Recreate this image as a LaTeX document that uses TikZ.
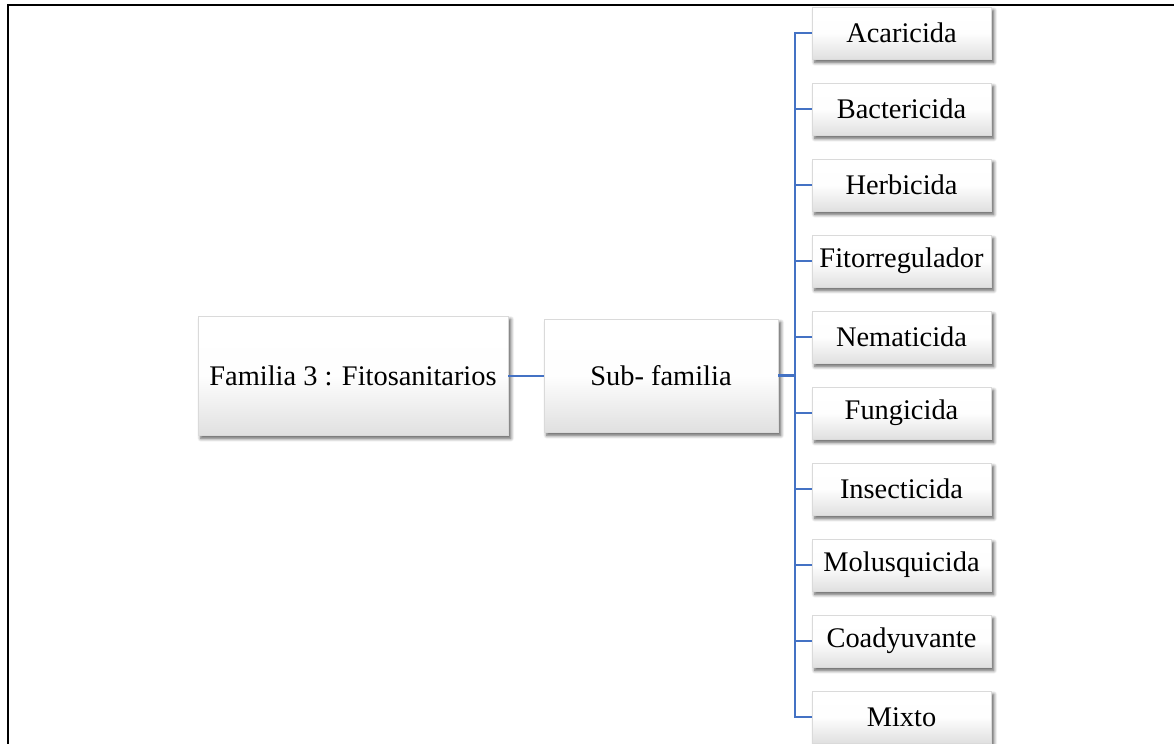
\documentclass[tikz,border=0pt]{standalone}
\usepackage{fontspec}
\setmainfont{Liberation Serif}
\usetikzlibrary{shadows.blur}
\definecolor{linkblue}{RGB}{68,114,196}
\definecolor{boxgray}{RGB}{224,224,224}
\definecolor{edgegray}{RGB}{218,218,218}
\tikzset{
  box/.style={draw=edgegray, line width=0.4pt, inner sep=0pt, align=center,
    font=\fontsize{14.2}{17}\selectfont,
    top color=white, bottom color=boxgray, middle color=white!97!boxgray,
    blur shadow={shadow xshift=1.4pt, shadow yshift=-1.7pt,
      shadow blur radius=1.7pt, shadow blur steps=6, shadow opacity=65}},
  bigbox/.style={box},
  leafbox/.style={box, minimum width=89.5pt, minimum height=26pt},
  link/.style={draw=linkblue, line width=1pt},
  trunk/.style={draw=linkblue, line width=1.6pt},
}
\begin{document}
\begin{tikzpicture}[x=0.5pt, y=-0.5pt]
  \useasboundingbox (0,0) rectangle (1174,744);

  % main boxes
  \node[bigbox, minimum width=155pt, minimum height=59.5pt] (fam) at (353,375.5) {Familia 3 : Fitosanitarios};
  \node[bigbox, minimum width=117pt, minimum height=56.5pt] (sub) at (661,375.5) {Sub- familia};

  % leaf boxes
  \foreach \name [count=\i from 0] in {Acaricida, Bactericida, Herbicida, Fitorregulador, Nematicida, Fungicida, Insecticida, Molusquicida, Coadyuvante, Mixto}{
    \node[leafbox] (leaf\i) at (901.5,{33+76*\i}) {\name};
  }

  % connectors
  \coordinate (bus) at (795,375.5);
  \draw[link] (fam.east) -- (sub.west);
  \draw[trunk] (sub.east) -- (bus);
  \foreach \i in {0,...,9}{
    \draw[link] (bus) |- ([xshift=0.3pt]leaf\i.west);
  }

  % frame
  \draw[line width=1pt] (8,760) -- (8,5) -- (1180,5);
\end{tikzpicture}
\end{document}
